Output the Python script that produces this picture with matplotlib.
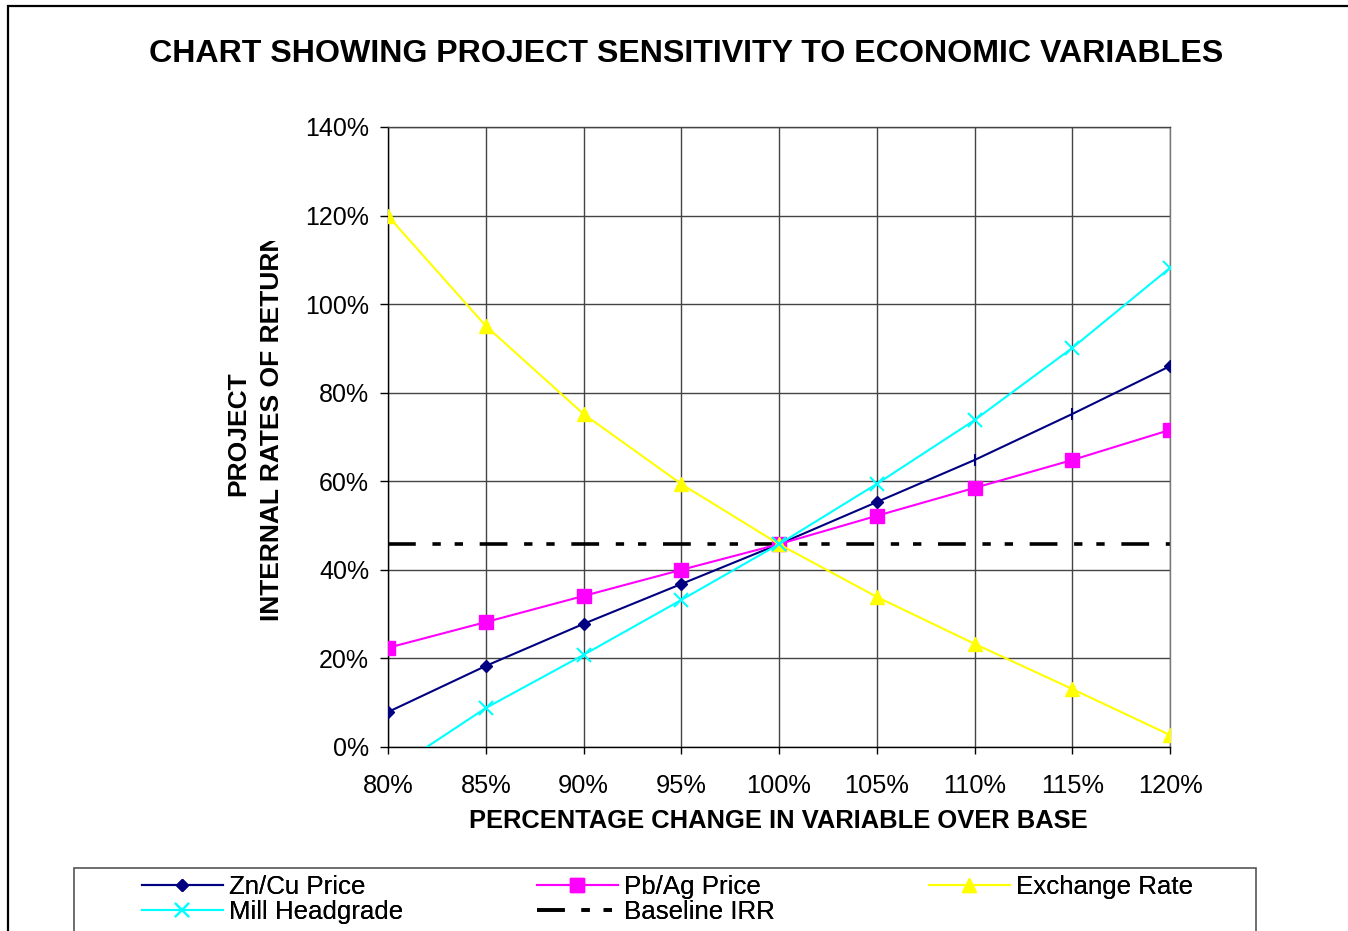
import matplotlib
matplotlib.use("Agg")
import matplotlib.pyplot as plt
from matplotlib.patches import Rectangle
from matplotlib.transforms import Bbox
from matplotlib.ticker import PercentFormatter, MultipleLocator

plt.rcParams['font.family'] = ['Liberation Sans', 'DejaVu Sans']
plt.rcParams['lines.scale_dashes'] = False

# data
pct_change = [0.80, 0.85, 0.90, 0.95, 1.00, 1.05, 1.10, 1.15, 1.20]
zn_cu = [0.079, 0.183, 0.278, 0.368, 0.458, 0.553, 0.648, 0.752, 0.860]
pb_ag = [0.224, 0.282, 0.341, 0.400, 0.458, 0.522, 0.585, 0.648, 0.716]
exchange = [1.199, 0.951, 0.752, 0.594, 0.458, 0.339, 0.233, 0.131, 0.027]
mill = [-0.058, 0.088, 0.208, 0.332, 0.458, 0.594, 0.738, 0.901, 1.082]
baseline_irr = 0.458

W, H = 1348, 931
fig = plt.figure(figsize=(W / 100, H / 100), dpi=100)

def fx(px):
    return px / W

def fy(py):
    return 1 - py / H

# plot area
ax = fig.add_axes([fx(388), fy(747), fx(1170) - fx(388), fy(127) - fy(747)])
ax.set_xlim(0.8, 1.2)
ax.set_ylim(0, 1.4)
ax.xaxis.set_major_locator(MultipleLocator(0.05))
ax.yaxis.set_major_locator(MultipleLocator(0.2))
ax.xaxis.set_major_formatter(PercentFormatter(1.0, decimals=0))
ax.yaxis.set_major_formatter(PercentFormatter(1.0, decimals=0))
ax.grid(True, color='#444444', linewidth=1.0)
ax.set_axisbelow(True)
for s in ax.spines.values():
    s.set_color('black')
    s.set_linewidth(1.0)
ax.spines['right'].set_color('#777777')
ax.spines['top'].set_color('#444444')
ax.tick_params(axis='x', direction='out', length=5, width=1, pad=14.5, labelsize=18.3)
ax.tick_params(axis='y', direction='out', length=5.5, width=1, pad=8, labelsize=18)

# baseline
ax.axhline(baseline_irr, color='black', linewidth=2.6,
           dashes=(20, 12, 6, 10, 6, 12), zorder=2)

# series
ax.plot(pct_change, zn_cu, color='#000080', linewidth=1.5, marker='D', markersize=6.4,
        markevery=[0, 1, 2, 3, 4, 5, 8], zorder=3)
ax.plot(pct_change[6:8], zn_cu[6:8], linestyle='none', marker='|', markersize=9,
        markeredgewidth=1.5, color='#000080', zorder=3)
ax.plot(pct_change, pb_ag, color='#FF00FF', linewidth=1.5, marker='s', markersize=9.5, zorder=3)
ax.plot(pct_change, exchange, color='#FFFF00', linewidth=1.5, marker='^', markersize=9.5, zorder=3)
ax.plot(pct_change, mill, color='#00FFFF', linewidth=1.5, marker='x', markersize=9.5,
        markeredgewidth=1.5, zorder=4)

# texts
fig.text(fx(686.5), fy(54), 'CHART SHOWING PROJECT SENSITIVITY TO ECONOMIC VARIABLES',
         ha='center', va='center', fontsize=23.1, fontweight='bold')
fig.text(fx(778), fy(821), 'PERCENTAGE CHANGE IN VARIABLE OVER BASE',
         ha='center', va='center', fontsize=18.4, fontweight='bold')
fig.text(fx(238), fy(434), 'PROJECT', rotation=90, ha='center', va='center',
         fontsize=19, fontweight='bold')
t2 = fig.text(fx(272), fy(427), 'INTERNAL RATES OF RETURN', rotation=90, ha='center',
              va='center', fontsize=19, fontweight='bold')
t2.set_clip_box(Bbox([[0, 0], [W, H - 241]]))
t2.set_clip_on(True)

# figure border (cropped on right and bottom)
fig.patches.append(Rectangle((fx(8), -0.1), 1.2, fy(6) + 0.1, transform=fig.transFigure,
                             fill=False, edgecolor='black', linewidth=1.6))
# legend box
fig.patches.append(Rectangle((fx(74), -0.1), fx(1256) - fx(74), fy(868) + 0.1,
                             transform=fig.transFigure, fill=False,
                             edgecolor='#555555', linewidth=1.2))

lines = ax.get_lines()
entries = [
    (lines[1], 'Zn/Cu Price', 142, 887),
    (lines[3], 'Pb/Ag Price', 537, 887),
    (lines[4], 'Exchange Rate', 929, 887),
    (lines[5], 'Mill Headgrade', 142, 912),
    (lines[0], 'Baseline IRR', 537, 912),
]
for handle, label, px, py in entries:
    leg = fig.legend([handle], [label], loc='center left', bbox_to_anchor=(fx(px), fy(py)),
                     frameon=False, fontsize=18.6, handlelength=3.13, handletextpad=0.25,
                     borderpad=0, borderaxespad=0, markerscale=1.0)
    fig.add_artist(leg)

fig.savefig('out.png', dpi=100)
